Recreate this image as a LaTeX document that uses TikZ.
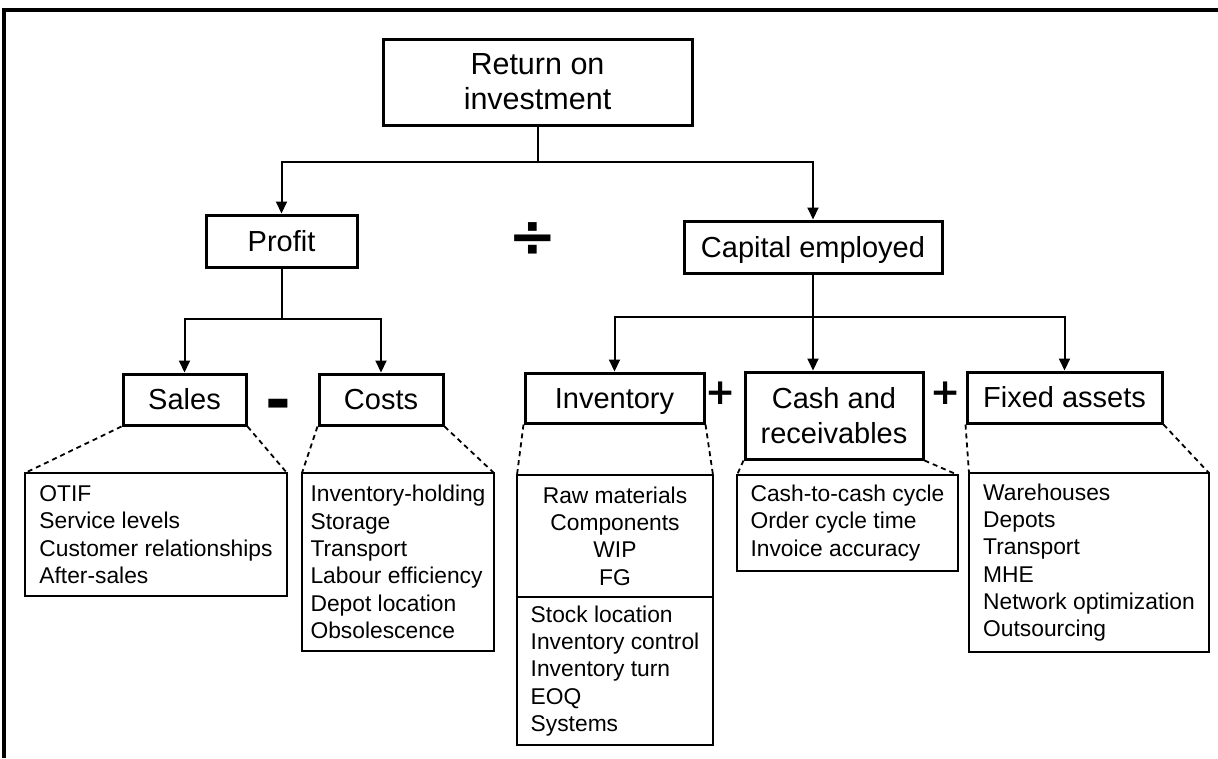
\documentclass[tikz,border=0pt]{standalone}
\usepackage{fontspec}
\setmainfont{Liberation Sans}
\newfontfamily\signfont{DejaVu Sans}
\usetikzlibrary{arrows.meta}

\begin{document}
\begin{tikzpicture}[x=1pt, y=-1pt, >={Stealth[length=12pt, width=11pt, inset=0pt]},
    mainbox/.style={draw, rectangle, line width=3pt, inner sep=0pt, align=center, font=\fontsize{29}{35}\selectfont},
    onebox/.style={mainbox, text height=20.8pt, text depth=0pt},
    itembox/.style={draw, rectangle, line width=1.8pt, outer sep=0pt, anchor=north west, inner sep=0pt, align=left, font=\fontsize{22.8}{27.3}\selectfont},
    link/.style={line width=2pt},
    zoomline/.style={line width=1.8pt, dash pattern=on 5pt off 4pt},
    opsign/.style={inner sep=0pt, font=\signfont\bfseries\fontsize{36}{36}\selectfont}]

    \useasboundingbox (0,0) rectangle (1218,758);
    % frame
    \draw[line width=3.2pt] (4,758) -- (4,10) -- (1218,10);

    % ratio at the top
    \node[mainbox, minimum width=309pt, minimum height=86pt, font=\fontsize{30.5}{35}\selectfont] (roi) at (537.5,82) {Return on\\investment};
    \node[onebox, minimum width=151pt, minimum height=52pt] (profit) at (281.5,241) {Profit};
    \node[onebox, minimum width=258pt, minimum height=52pt] (capital) at (813,247) {Capital employed};
    \node[opsign, font=\signfont\bfseries\fontsize{58}{58}\selectfont] (divide) at (533,240) {÷};

    % second level
    \node[onebox, minimum width=123pt, minimum height=51pt] (sales) at (184.5,399.5) {Sales};
    \node[onebox, minimum width=124pt, minimum height=51pt] (costs) at (381,399.5) {Costs};
    \node[onebox, minimum width=179pt, minimum height=50pt] (inventory) at (614.5,398) {Inventory};
    \node[mainbox, minimum width=178pt, minimum height=87pt] (cash) at (834,415.5) {Cash and\\receivables};
    \node[onebox, minimum width=195pt, minimum height=51pt] (fixed) at (1064.5,397.5) {Fixed assets};

    \node[opsign, font=\signfont\bfseries\fontsize{62}{62}\selectfont] (minus) at (278,410) {-};
    \node[opsign] (plusA) at (721,393) {+};
    \node[opsign] (plusB) at (946,393) {+};

    % tree arrows
    \draw[link, ->] (roi.south) -- ++(0,35) -| (profit.north);
    \draw[link, ->] (roi.south) -- ++(0,35) -| (capital.north);
    \draw[link, ->] (profit.south) -- ++(0,50) -| (sales.north);
    \draw[link, ->] (profit.south) -- ++(0,50) -| (costs.north);
    \draw[link, ->] (capital.south) -- ++(0,42) -| (inventory.north);
    \draw[link, ->] (capital.south) -- ++(0,42) -| (fixed.north);
    \draw[link, ->] (capital.south) -- (capital.south |- cash.north);

    % detail boxes
    \node[itembox, minimum width=262pt, minimum height=123pt] (salesitems) at (25,473) {OTIF\\Service levels\\Customer relationships\\After-sales};
    \node[itembox, minimum width=192pt, minimum height=178pt] (costitems) at (302,473) {Inventory-holding\\Storage\\Transport\\Labour efficiency\\Depot location\\Obsolescence};
    \node[itembox, minimum width=196pt, minimum height=122pt, align=center] (invtypes) at (517,475) {Raw materials\\Components\\WIP\\FG};
    \node[itembox, minimum width=196pt, minimum height=148pt] (invitems) at (invtypes.south west) {Stock location\\Inventory control\\Inventory turn\\EOQ\\Systems};
    \node[itembox, minimum width=221pt, minimum height=96pt] (cashitems) at (737,475) {Cash-to-cash cycle\\Order cycle time\\Invoice accuracy};
    \node[itembox, minimum width=240pt, minimum height=179pt] (fixeditems) at (969,473) {Warehouses\\Depots\\Transport\\MHE\\Network optimization\\Outsourcing};

    % dashed zoom lines
    \draw[zoomline] (sales.south west) -- (salesitems.north west);
    \draw[zoomline] (sales.south east) -- (salesitems.north east);
    \draw[zoomline] (costs.south west) -- (costitems.north west);
    \draw[zoomline] (costs.south east) -- (costitems.north east);
    \draw[zoomline] (inventory.south west) -- (invtypes.north west);
    \draw[zoomline] (inventory.south east) -- (invtypes.north east);
    \draw[zoomline] (cash.south west) -- (cashitems.north west);
    \draw[zoomline] (cash.south east) -- (cashitems.north east);
    \draw[zoomline] (fixed.south west) -- (fixeditems.north west);
    \draw[zoomline] (fixed.south east) -- (fixeditems.north east);
\end{tikzpicture}
\end{document}
